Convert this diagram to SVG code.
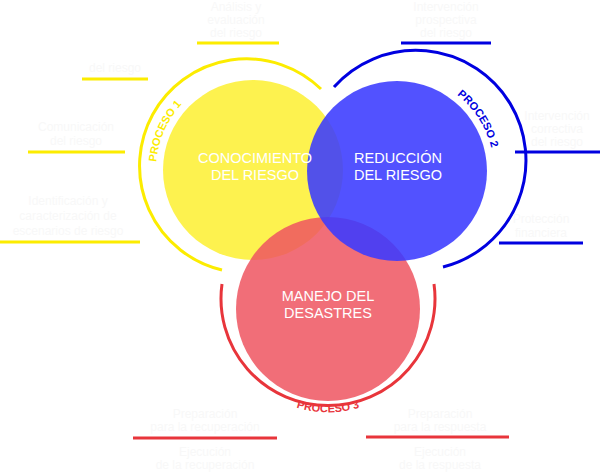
<svg xmlns="http://www.w3.org/2000/svg" width="600" height="472" viewBox="0 0 600 472">
<style>
.lbl{font-family:"Liberation Sans",Arial,sans-serif;font-size:14.5px;fill:#fff;text-anchor:middle}
.ghost{font-family:"Liberation Sans",Arial,sans-serif;font-size:12px;fill:#f8f8f8;text-anchor:middle}
.pr{font-family:"Liberation Sans",Arial,sans-serif;font-size:11px;font-weight:bold}
.y{stroke:#fcec00}.b{stroke:#0000e0}.r{stroke:#e8353b}
line,.arc{stroke-width:3;fill:none}
</style>
<defs>
<path id="py" d="M 156 170 A 97 97 0 0 1 286 79"/>
<path id="pb" d="M 445.5 87 A 97 97 0 0 1 492.5 188"/>
<path id="pr" d="M 231 344 A 103 103 0 0 0 425 344"/>
</defs>
<rect width="600" height="472" fill="#fff"/>
<g id="connectors">
<path class="arc y" d="M 222 270 A 107 107 0 1 1 321 89"/>
<path class="arc b" d="M 334 87 A 110 110 0 1 1 443 267"/>
<path class="arc r" d="M 222 284 A 107 107 0 1 0 434 284"/>
<line class="y" x1="197" y1="43" x2="279" y2="43"/>
<line class="y" x1="82" y1="79" x2="148" y2="79"/>
<line class="y" x1="28" y1="152" x2="125" y2="152"/>
<line class="y" x1="0" y1="242" x2="140" y2="242"/>
<line class="b" x1="401" y1="43" x2="491" y2="43"/>
<line class="b" x1="515" y1="152" x2="600" y2="152"/>
<line class="b" x1="499" y1="243" x2="583" y2="243"/>
<line class="r" x1="133" y1="438" x2="277" y2="438"/>
<line class="r" x1="366" y1="437" x2="509" y2="437"/>
</g>
<g id="ghosts" class="ghost">
<text x="236" y="11">Análisis y</text><text x="236" y="24">evaluación</text><text x="236" y="37">del riesgo</text>
<text x="115" y="72">del riesgo</text>
<text x="76" y="131">Comunicación</text><text x="76" y="145">del riesgo</text>
<text x="68" y="205">Identificación y</text><text x="68" y="220">caracterización de</text><text x="68" y="235">escenarios de riesgo</text>
<text x="446" y="11">Intervención</text><text x="446" y="24">prospectiva</text><text x="446" y="37">del riesgo</text>
<text x="557" y="120">Intervención</text><text x="557" y="133">correctiva</text><text x="557" y="146">del riesgo</text>
<text x="541" y="223">Protección</text><text x="541" y="237">financiera</text>
<text x="205" y="418">Preparación</text><text x="205" y="431">para la recuperación</text>
<text x="205" y="456">Ejecución</text><text x="205" y="469">de la recuperación</text>
<text x="440" y="418">Preparación</text><text x="440" y="431">para la respuesta</text>
<text x="440" y="456">Ejecución</text><text x="440" y="469">de la respuesta</text>
</g>
<g id="n1"><circle cx="253" cy="170" r="90" fill="#fdf24f"/></g>
<g id="n3"><circle cx="328" cy="309" r="92" fill="#ee5560" fill-opacity="0.85"/></g>
<g id="n2"><circle cx="397" cy="171" r="90" fill="#3a3aff" fill-opacity="0.88"/></g>
<g id="labels">
<text class="lbl" x="255" y="163">CONOCIMIENTO</text><text class="lbl" x="255" y="180">DEL RIESGO</text>
<text class="lbl" x="398" y="163">REDUCCIÓN</text><text class="lbl" x="398" y="180">DEL RIESGO</text>
<text class="lbl" x="328" y="301">MANEJO DEL</text><text class="lbl" x="328" y="318">DESASTRES</text>
<text class="pr" fill="#fcec00"><textPath href="#py" startOffset="8">PROCESO 1</textPath></text>
<text class="pr" fill="#0000e0"><textPath href="#pb" startOffset="14">PROCESO 2</textPath></text>
<text class="pr" fill="#e8353b" text-anchor="middle"><textPath href="#pr" startOffset="50%">PROCESO 3</textPath></text>
</g>
</svg>
